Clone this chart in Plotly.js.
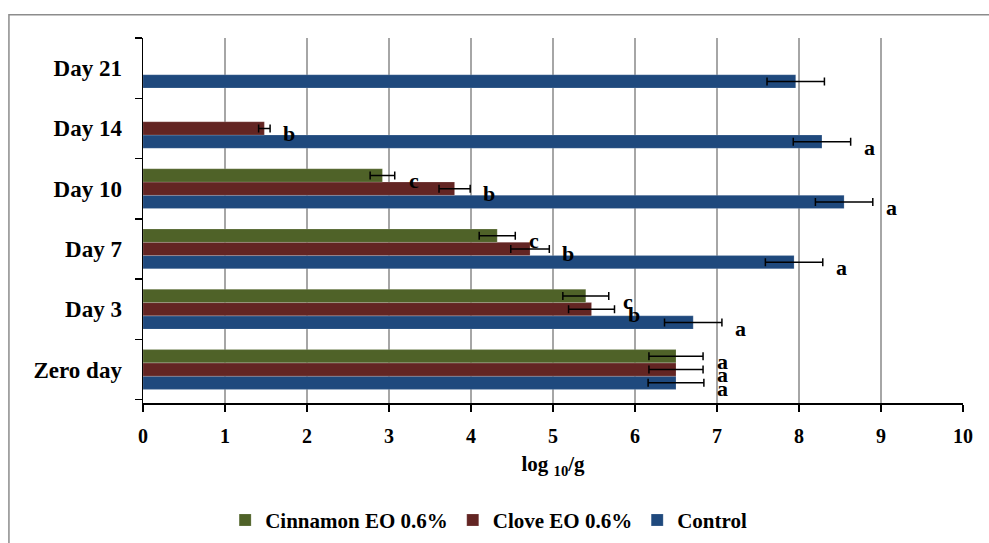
<!DOCTYPE html>
<html>
<head>
<meta charset="utf-8">
<script src="https://cdn.plot.ly/plotly-3.0.1.min.js"></script>
<style>
html,body{margin:0;padding:0;background:#fff;}
#chart{width:989px;height:543px;}
#chart .legendtext{font-family:"Liberation Serif", serif !important; font-weight:bold;}
</style>
</head>
<body>
<div id="chart"></div>
<script>
// Categories (bottom to top)
const days = ["Zero day", "Day 3", "Day 7", "Day 10", "Day 14", "Day 21"];

// Series values (log10/g)
const controlVals   = [6.50, 6.71, 7.94, 8.55, 8.28, 7.96];
const controlErr    = [0.34, 0.35, 0.35, 0.35, 0.35, 0.35];
const controlLetters = ["a", "a", "a", "a", "a", ""];

const cloveVals     = [6.50, 5.47, 4.72, 3.80, 1.48, null];
const cloveErr      = [0.33, 0.28, 0.235, 0.19, 0.07, null];
const cloveLetters  = ["a", "b", "b", "b", "b", ""];

const cinnVals      = [6.50, 5.40, 4.32, 2.92, null, null];
const cinnErr       = [0.33, 0.28, 0.22, 0.15, null, null];
const cinnLetters   = ["a", "c", "c", "c", "", ""];

const xTicks = [0, 1, 2, 3, 4, 5, 6, 7, 8, 9, 10];

const FONT = "Liberation Serif";

function barTrace(name, vals, errs, color) {
  return {
    type: "bar", orientation: "h",
    name: "<b>" + name + "</b>",
    y: days, x: vals,
    marker: {color: color, line: {color: "rgba(255,255,255,0.35)", width: 0.5}},
    error_x: {type: "data", array: errs, visible: true, color: "#000", thickness: 1.5, width: 4},
    hoverinfo: "x+y"
  };
}

const traces = [
  barTrace("Control", controlVals, controlErr, "#1F497D"),
  barTrace("Clove EO 0.6%", cloveVals, cloveErr, "#632523"),
  barTrace("Cinnamon EO 0.6%", cinnVals, cinnErr, "#4F6228")
];

// Letter annotations next to error bars
const annotations = [];
const seriesSets = [
  {vals: controlVals, errs: controlErr, letters: controlLetters, yshift: -19},
  {vals: cloveVals, errs: cloveErr, letters: cloveLetters, yshift: -5},
  {vals: cinnVals, errs: cinnErr, letters: cinnLetters, yshift: 8}
];
seriesSets.forEach(s => {
  days.forEach((d, i) => {
    if (!s.letters[i] || s.vals[i] == null) return;
    annotations.push({
      x: s.vals[i] + (s.errs[i] || 0), y: d, xref: "x", yref: "y",
      text: "<b>" + s.letters[i] + "</b>", showarrow: false,
      xanchor: "center", yanchor: "middle", xshift: 19, yshift: s.yshift,
      font: {family: FONT, size: 22, color: "#000"}
    });
  });
});

const layout = {
  width: 989, height: 543,
  margin: {l: 143, r: 26, t: 38, b: 140},
  paper_bgcolor: "#fff", plot_bgcolor: "#fff",
  barmode: "group", bargap: 0.34, bargroupgap: 0,
  font: {family: FONT, size: 20, color: "#000"},
  xaxis: {
    automargin: false,
    range: [0, 10], tickvals: xTicks, ticktext: xTicks.map(v => "<b>" + v + "</b>"),
    showgrid: true, gridcolor: "#a6a6a6", gridwidth: 1.5,
    zeroline: false, showline: true, linecolor: "#000", linewidth: 1.5,
    ticks: "outside", ticklen: 7, tickwidth: 1.5, tickcolor: "#000",
    ticklabelstandoff: 7,
    tickfont: {family: FONT, size: 20, color: "#000"},
    title: {text: "<b>log <sub>10</sub>/g</b>", font: {family: FONT, size: 21, color: "#000"}, standoff: 11},
    fixedrange: true
  },
  yaxis: {
    automargin: false,
    type: "category", categoryorder: "array", categoryarray: days,
    tickvals: days, ticktext: days.map(d => "<b>" + d + "</b>"),
    showgrid: false, zeroline: false, showline: true, linecolor: "#000", linewidth: 1.5,
    ticks: "outside", tickson: "boundaries", ticklen: 7, tickwidth: 1.5, tickcolor: "#000",
    ticklabelstandoff: 15,
    tickfont: {family: FONT, size: 23, color: "#000"},
    fixedrange: true
  },
  showlegend: true,
  legend: {
    orientation: "h", traceorder: "reversed",
    x: 0.4215, xanchor: "center", yref: "container", y: 0.004, yanchor: "bottom",
    font: {family: FONT, size: 21, color: "#000"},
    itemwidth: 30, tracegroupgap: 0
  },
  annotations: annotations,
  shapes: [{
    type: "rect", xref: "paper", yref: "paper",
    x0: -0.1635, x1: 1.06, y0: -0.45, y1: 1.064,
    line: {color: "#8c8c8c", width: 1.5}, fillcolor: "rgba(0,0,0,0)", layer: "below"
  }]
};

Plotly.newPlot("chart", traces, layout, {displayModeBar: false, staticPlot: true});
</script>
</body>
</html>
